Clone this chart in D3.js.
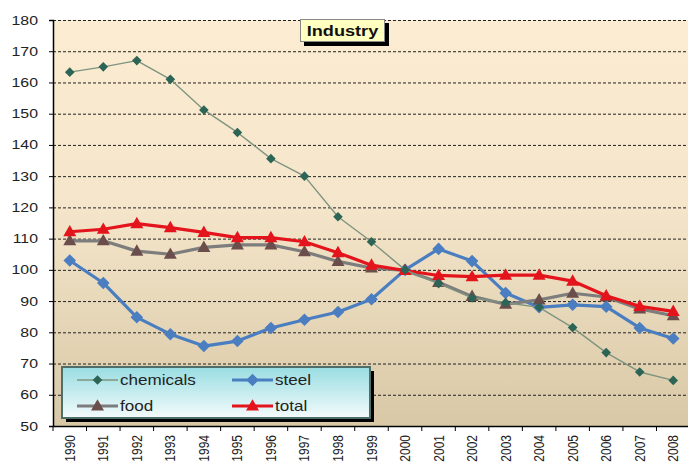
<!DOCTYPE html>
<html><head><meta charset="utf-8">
<script src="https://cdn.jsdelivr.net/npm/d3@7"></script>
<style>body{margin:0;background:#fff;overflow:hidden}svg{display:block}</style>
</head><body>
<script>
const years = ["1990","1991","1992","1993","1994","1995","1996","1997","1998","1999","2000","2001","2002","2003","2004","2005","2006","2007","2008"];
const chemicals = [163.3,165,167,161,151.2,144,135.6,130,117,109,100,95.6,91,89.5,88,81.5,73.5,67.3,64.6];
const steel = [103,95.8,84.8,79.4,75.6,77.2,81.4,84,86.5,90.6,100,106.7,102.8,92.6,88,88.8,88.2,81.4,78];
const food = [109.3,109.3,106,105,107.2,108,108,105.8,102.7,100.6,99.8,96,91.5,89,90.4,92.5,91.3,87.5,85.3];
const total = [112.2,113,114.8,113.5,112,110.3,110.3,109,105.5,101.5,99.8,98.2,97.8,98.3,98.3,96.4,91.7,88.3,86.7];
const yTicks = [50,60,70,80,90,100,110,120,130,140,150,160,170,180];
const title = "Industry";

const W = 688, H = 464;
const m = {l:53, t:20, r:-2, b:38};
const FONT = "Arial, 'Liberation Sans', sans-serif";
const SX = 1.22; // horizontal stretch of the original picture
const svg = d3.select("body").append("svg").attr("width",W).attr("height",H);
const defs = svg.append("defs");
const bg = defs.append("linearGradient").attr("id","bg").attr("x1",0).attr("y1",0).attr("x2",0).attr("y2",1);
bg.append("stop").attr("offset","0").attr("stop-color","#fcecd2");
bg.append("stop").attr("offset","0.45").attr("stop-color","#f5e6cb");
bg.append("stop").attr("offset","1").attr("stop-color","#d8c8a6");
const lg = defs.append("linearGradient").attr("id","lg").attr("x1",0).attr("y1",0).attr("x2",0).attr("y2",1);
lg.append("stop").attr("offset","0").attr("stop-color","#98dde2");
lg.append("stop").attr("offset","1").attr("stop-color","#f4fbfb");

const x = d3.scaleBand().domain(years).range([m.l, W - m.r]).padding(0);
const y = d3.scaleLinear().domain([50,180]).range([H - m.b, m.t]);
const cx = d => x(d) + x.bandwidth()/2;

svg.append("rect").attr("x",m.l).attr("y",m.t).attr("width",W-m.r-m.l).attr("height",y(50)-m.t).attr("fill","url(#bg)");

// gridlines
svg.append("g").selectAll("line").data(yTicks.filter(t=>t>50)).join("line")
  .attr("x1",m.l).attr("x2",W).attr("y1",d=>y(d)+0.5).attr("y2",d=>y(d)+0.5)
  .attr("stroke","#222").attr("stroke-width",1).attr("stroke-dasharray","3,2");

// y axis
const ya = svg.append("g").attr("transform",`translate(${m.l},0)`)
  .call(d3.axisLeft(y).tickValues(yTicks).tickSize(4).tickFormat(""));
ya.select(".domain").attr("stroke","#000").attr("stroke-width",1.5);
svg.append("g").selectAll("text").data(yTicks).join("text")
  .attr("transform",d=>`translate(38,${y(d)+4.5}) scale(${SX},1)`)
  .attr("text-anchor","end").attr("font-family",FONT).attr("font-size",13).attr("fill","#222")
  .text(d=>d);

// x axis
const xa = svg.append("g").attr("transform",`translate(0,${y(50)})`)
  .call(d3.axisBottom(x).tickSize(0).tickFormat(""));
xa.select(".domain").attr("stroke","#000").attr("stroke-width",1.5);
svg.append("g").selectAll("line").data(years).join("line")
  .attr("x1",d=>x(d)).attr("x2",d=>x(d)).attr("y1",y(50)).attr("y2",y(50)+5).attr("stroke","#000");
svg.append("g").selectAll("text").data(years).join("text")
  .attr("transform",d=>`translate(${cx(d)+5},${y(50)+9}) rotate(-90) scale(1,${SX})`)
  .attr("text-anchor","end")
  .attr("font-family",FONT).attr("font-size",12).attr("fill","#222")
  .text(d=>d);

const diamondPath = s => `M0,${-s}L${s},0L0,${s}L${-s},0Z`;
const triPath = s => `M0,${-s*1.05}L${s},${s*0.7}L${-s},${s*0.7}Z`;
const series = [
  {name:"steel", data:steel, line:"#4a7ec0", lw:3.2, mk:"#4a7ec0", shape:diamondPath(6.3)},
  {name:"food", data:food, line:"#7d7d7d", lw:3.2, mk:"#6b4e4c", shape:triPath(6.5)},
  {name:"total", data:total, line:"#e4141c", lw:3.2, mk:"#e4141c", shape:triPath(6.5)},
  {name:"chemicals", data:chemicals, line:"#7f9480", lw:1.4, mk:"#2c6455", shape:diamondPath(4.8)}
];
const line = d3.line().x((d,i)=>cx(years[i])).y(d=>y(d));
series.forEach(s=>{
  svg.append("path").datum(s.data).attr("d",line).attr("fill","none")
    .attr("stroke",s.line).attr("stroke-width",s.lw).attr("stroke-linejoin","round");
  svg.append("g").selectAll("path").data(s.data).join("path")
    .attr("transform",(d,i)=>`translate(${cx(years[i])},${y(d)})`)
    .attr("d",s.shape).attr("fill",s.mk);
});

// title box
svg.append("rect").attr("x",304).attr("y",23).attr("width",85).attr("height",23).attr("fill","#000");
svg.append("rect").attr("x",300.5).attr("y",19.5).attr("width",84).attr("height",22).attr("fill","#ffffc0").attr("stroke","#888").attr("stroke-width",1);
svg.append("text").attr("transform",`translate(342.5,36) scale(1.25,1)`).attr("text-anchor","middle")
  .attr("font-family",FONT).attr("font-size",14.5).attr("font-weight","bold").attr("fill","#111").text(title);

// legend
const L = {x:62, y:367, w:308, h:51};
svg.append("rect").attr("x",L.x+4).attr("y",L.y+4).attr("width",L.w).attr("height",L.h).attr("fill","#000");
svg.append("rect").attr("x",L.x).attr("y",L.y).attr("width",L.w).attr("height",L.h).attr("fill","url(#lg)").attr("stroke","#4e6e6a").attr("stroke-width",2);
const legItems = [
  {s:series[3], lx:77, ly:380},
  {s:series[0], lx:232, ly:380},
  {s:series[1], lx:77, ly:406},
  {s:series[2], lx:232, ly:406}
];
legItems.forEach(it=>{
  const g = svg.append("g");
  g.append("line").attr("x1",it.lx).attr("x2",it.lx+41).attr("y1",it.ly).attr("y2",it.ly)
    .attr("stroke",it.s.line).attr("stroke-width",it.s.lw);
  g.append("path").attr("transform",`translate(${it.lx+20.5},${it.ly})`).attr("d",it.s.shape).attr("fill",it.s.mk);
  g.append("text").attr("transform",`translate(${it.lx+43},${it.ly+5}) scale(${SX},1)`)
    .attr("font-family",FONT).attr("font-size",14).attr("fill","#222").text(it.s.name);
});
</script>
</body></html>
